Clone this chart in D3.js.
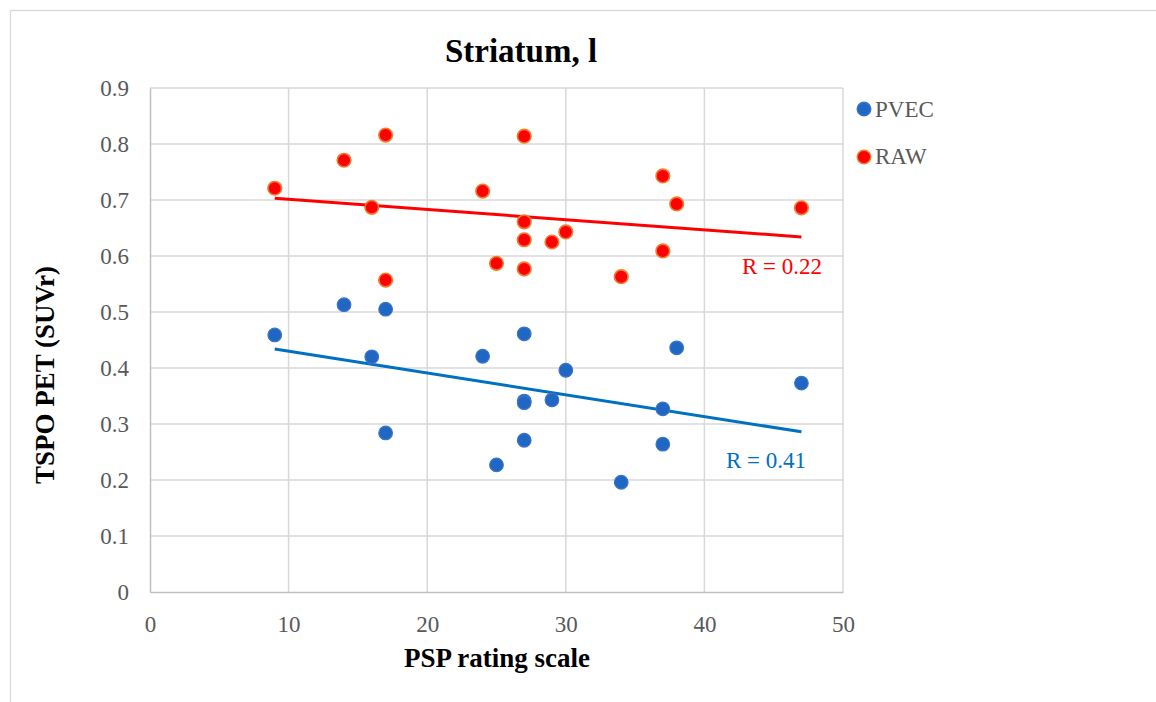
<!DOCTYPE html>
<html><head><meta charset="utf-8">
<script src="https://cdn.jsdelivr.net/npm/d3@7"></script>
<style>body{margin:0;background:#fff}svg{display:block}</style>
</head><body>
<script>
const xTicks = [0,10,20,30,40,50];
const yTicks = [0,0.1,0.2,0.3,0.4,0.5,0.6,0.7,0.8,0.9];
const psp = [9,14,16,17,17,24,25,27,27,27,27,29,30,34,37,37,38,47];
const rawVals  = [0.721,0.771,0.687,0.816,0.557,0.716,0.587,0.814,0.661,0.629,0.577,0.625,0.643,0.563,0.743,0.609,0.693,0.686];
const pvecVals = [0.459,0.513,0.420,0.505,0.284,0.421,0.227,0.461,0.341,0.338,0.271,0.343,0.396,0.196,0.327,0.264,0.436,0.373];
const trendX = [9,47];
const trendRaw = [0.703,0.634];
const trendPvec = [0.434,0.286];
const seriesNames = ["PVEC","RAW"];
const rLabels = ["R = 0.41","R = 0.22"];

const W=1156,H=702;
const svg=d3.select("body").append("svg").attr("width",W).attr("height",H);
const font="'Liberation Serif','Times New Roman',serif";
svg.append("rect").attr("x",10.5).attr("y",10.5).attr("width",1160).attr("height",720)
  .attr("fill","#fff").attr("stroke","#d9d9d9").attr("stroke-width",1.3);

const x=d3.scaleLinear().domain([0,50]).range([150,843]);
const y=d3.scaleLinear().domain([0,0.9]).range([592,88]);

// grid
svg.append("g").selectAll("line").data(yTicks.slice(1)).join("line")
  .attr("x1",x(0)).attr("x2",x(50)).attr("y1",d=>y(d)).attr("y2",d=>y(d))
  .attr("stroke","#d9d9d9").attr("stroke-width",1.5);
svg.append("g").selectAll("line").data(xTicks.slice(1)).join("line")
  .attr("y1",y(0)).attr("y2",y(0.9)).attr("x1",d=>x(d)).attr("x2",d=>x(d))
  .attr("stroke","#d9d9d9").attr("stroke-width",1.5);

// axes
const xa=svg.append("g").attr("transform",`translate(0,${y(0)})`)
  .call(d3.axisBottom(x).tickValues(xTicks).tickSize(0).tickPadding(24).tickFormat(d3.format("d")));
xa.select(".domain").attr("stroke","#bfbfbf").attr("stroke-width",1.5);
const ya=svg.append("g").attr("transform",`translate(${x(0)},0)`)
  .call(d3.axisLeft(y).tickValues(yTicks).tickSize(0).tickPadding(21).tickFormat(d=>d===0?"0":d3.format(".1f")(d)));
ya.select(".domain").attr("stroke","#bfbfbf").attr("stroke-width",1.5);
svg.selectAll(".tick text").attr("font-family",font).attr("font-size",23).attr("fill","#595959");

// trend lines
const line=d3.line().x(d=>x(d[0])).y(d=>y(d[1]));
svg.append("path").datum(trendX.map((t,i)=>[t,trendRaw[i]])).attr("d",line)
  .attr("stroke","#ff0000").attr("stroke-width",3).attr("fill","none");
svg.append("path").datum(trendX.map((t,i)=>[t,trendPvec[i]])).attr("d",line)
  .attr("stroke","#0070c0").attr("stroke-width",3).attr("fill","none");

// points
svg.append("g").selectAll("circle").data(psp.map((p,i)=>[p,pvecVals[i]])).join("circle")
  .attr("cx",d=>x(d[0])).attr("cy",d=>y(d[1])).attr("r",6.8)
  .attr("fill","#1f67c2").attr("stroke","#3d74c8").attr("stroke-width",1.2);
svg.append("g").selectAll("circle").data(psp.map((p,i)=>[p,rawVals[i]])).join("circle")
  .attr("cx",d=>x(d[0])).attr("cy",d=>y(d[1])).attr("r",6.8)
  .attr("fill","#ff0000").attr("stroke","#ed7d31").attr("stroke-width",1.6);

// R labels
svg.append("text").attr("x",822).attr("y",274).attr("text-anchor","end")
  .attr("font-family",font).attr("font-size",23).attr("fill","#ff0000").text(rLabels[1]);
svg.append("text").attr("x",806).attr("y",468).attr("text-anchor","end")
  .attr("font-family",font).attr("font-size",23).attr("fill","#0070c0").text(rLabels[0]);

// titles
svg.append("text").attr("x",521).attr("y",62).attr("text-anchor","middle")
  .attr("font-family",font).attr("font-size",33).attr("font-weight","bold").text("Striatum, l");
svg.append("text").attr("x",497).attr("y",667).attr("text-anchor","middle")
  .attr("font-family",font).attr("font-size",27).attr("font-weight","bold").text("PSP rating scale");
svg.append("text").attr("transform","translate(54,375) rotate(-90)").attr("text-anchor","middle")
  .attr("font-family",font).attr("font-size",27).attr("font-weight","bold").text("TSPO PET (SUVr)");

// legend
const leg=[{name:seriesNames[0],fill:"#1f67c2",stroke:"#3d74c8",cy:109,ty:117},
           {name:seriesNames[1],fill:"#ff0000",stroke:"#ed7d31",cy:157,ty:164}];
leg.forEach(l=>{
  svg.append("circle").attr("cx",864).attr("cy",l.cy).attr("r",6.8).attr("fill",l.fill).attr("stroke",l.stroke).attr("stroke-width",1.4);
  svg.append("text").attr("x",875).attr("y",l.ty).attr("font-family",font).attr("font-size",23).attr("fill","#595959").text(l.name);
});
</script>
</body></html>
